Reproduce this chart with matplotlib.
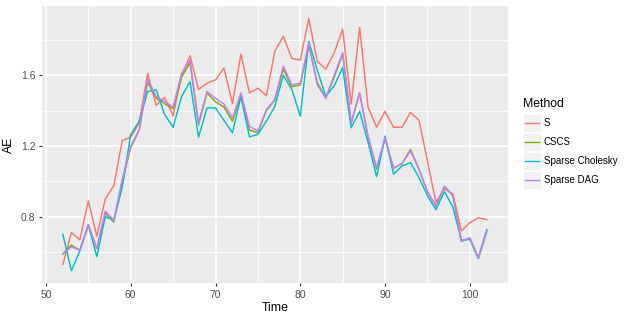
import numpy as np
import matplotlib
matplotlib.use("Agg")
import matplotlib.pyplot as plt
from matplotlib.patches import Rectangle
from matplotlib.lines import Line2D

plt.rcParams['font.family'] = ['Liberation Sans', 'DejaVu Sans']

time = np.arange(52, 103)

ae_s = [0.53, 0.71, 0.67, 0.89, 0.69, 0.90, 0.975, 1.23, 1.25, 1.33,
        1.61, 1.43, 1.475, 1.37, 1.60, 1.71, 1.52, 1.555, 1.574, 1.64,
        1.44, 1.72, 1.50, 1.527, 1.484, 1.736, 1.82, 1.695, 1.686, 1.92,
        1.68, 1.634, 1.727, 1.86, 1.437, 1.87, 1.418, 1.306, 1.396, 1.306,
        1.306, 1.39, 1.345, 1.115, 0.882, 0.957, 0.929, 0.72, 0.766, 0.794,
        0.783]
ae_cscs = [0.59, 0.64, 0.61, 0.75, 0.62, 0.82, 0.77, 1.0, 1.19, 1.29,
           1.56, 1.47, 1.44, 1.41, 1.59, 1.67, 1.32, 1.50, 1.45, 1.42,
           1.34, 1.49, 1.29, 1.275, 1.40, 1.46, 1.635, 1.535, 1.545, 1.77,
           1.56, 1.47, 1.59, 1.72, 1.33, 1.50, 1.25, 1.07, 1.24, 1.075,
           1.10, 1.18, 1.07, 0.94, 0.86, 0.97, 0.92, 0.66, 0.68, 0.565,
           0.72]
ae_chol = [0.70, 0.495, 0.607, 0.755, 0.574, 0.80, 0.78, 0.966, 1.265, 1.34,
           1.508, 1.518, 1.378, 1.306, 1.48, 1.564, 1.25, 1.415, 1.415, 1.345,
           1.275, 1.48, 1.252, 1.265, 1.34, 1.424, 1.60, 1.52, 1.368, 1.79,
           1.63, 1.48, 1.54, 1.643, 1.303, 1.396, 1.219, 1.026, 1.256, 1.04,
           1.087, 1.106, 1.022, 0.919, 0.84, 0.942, 0.854, 0.667, 0.672, 0.564,
           0.727]
ae_dag = [0.588, 0.63, 0.611, 0.755, 0.62, 0.832, 0.78, 1.01, 1.2, 1.293,
          1.58, 1.48, 1.452, 1.42, 1.61, 1.686, 1.33, 1.508, 1.47, 1.437,
          1.36, 1.50, 1.312, 1.284, 1.405, 1.465, 1.652, 1.546, 1.555, 1.783,
          1.546, 1.47, 1.60, 1.727, 1.334, 1.50, 1.256, 1.078, 1.247, 1.073,
          1.102, 1.172, 1.069, 0.942, 0.86, 0.972, 0.919, 0.661, 0.68, 0.568,
          0.717]

methods = ["S", "CSCS", "Sparse Cholesky", "Sparse DAG"]
series = [ae_s, ae_cscs, ae_chol, ae_dag]
colors = ["#F8766D", "#7CAE00", "#00BFC4", "#C77CFF"]

W, H = 640, 320
fig = plt.figure(figsize=(6.4, 3.2), dpi=100)
ax = fig.add_axes([41.7 / W, 1 - 283.3 / H, (508 - 41.7) / W, (283.3 - 6) / H])
ax.set_facecolor("#EBEBEB")

for name, vals, c in zip(methods, series, colors):
    ax.plot(time, vals, color=c, lw=1.05, label=name)

ax.set_xlim(49.5, 104.5)
ax.set_ylim(0.4235, 1.9915)
ax.set_xticks([50, 60, 70, 80, 90, 100])
ax.set_xticks([55, 65, 75, 85, 95], minor=True)
ax.set_yticks([0.8, 1.2, 1.6])
ax.set_yticklabels(["0.8", "1.2", "1.6"])
ax.set_yticks([0.6, 1.0, 1.4, 1.8], minor=True)
ax.grid(which="major", color="white", lw=1.1)
ax.grid(which="minor", color="white", lw=0.55)
ax.set_axisbelow(True)
for sp in ax.spines.values():
    sp.set_visible(False)
ax.tick_params(which="major", length=2.5, width=0.8, color="#333333",
               labelcolor="#4D4D4D", labelsize=7.5, pad=2)
ax.tick_params(which="minor", length=0)
ax.set_xlabel("Time", fontsize=8.8, labelpad=2)
ax.set_ylabel("AE", fontsize=8.8, labelpad=4)

# legend drawn by hand, ggplot style
def fx(px):
    return px / W

def fy(py):
    return 1 - py / H

fig.text(fx(522.7), fy(104), "Method", fontsize=8.8, va="center", ha="left")
for i, (name, c) in enumerate(zip(methods, colors)):
    top = 114.3 + i * 19
    fig.add_artist(Rectangle((fx(522.7), fy(top + 18)), 18 / W, 18 / H,
                             transform=fig.transFigure, facecolor="#F2F2F2",
                             edgecolor="white", lw=0.6))
    fig.add_artist(Line2D([fx(524.5), fx(539)], [fy(top + 9), fy(top + 9)],
                          transform=fig.transFigure, color=c, lw=1.0))
    fig.text(fx(544), fy(top + 9), name, fontsize=7, va="center", ha="left")

fig.savefig("out.png", dpi=100)
